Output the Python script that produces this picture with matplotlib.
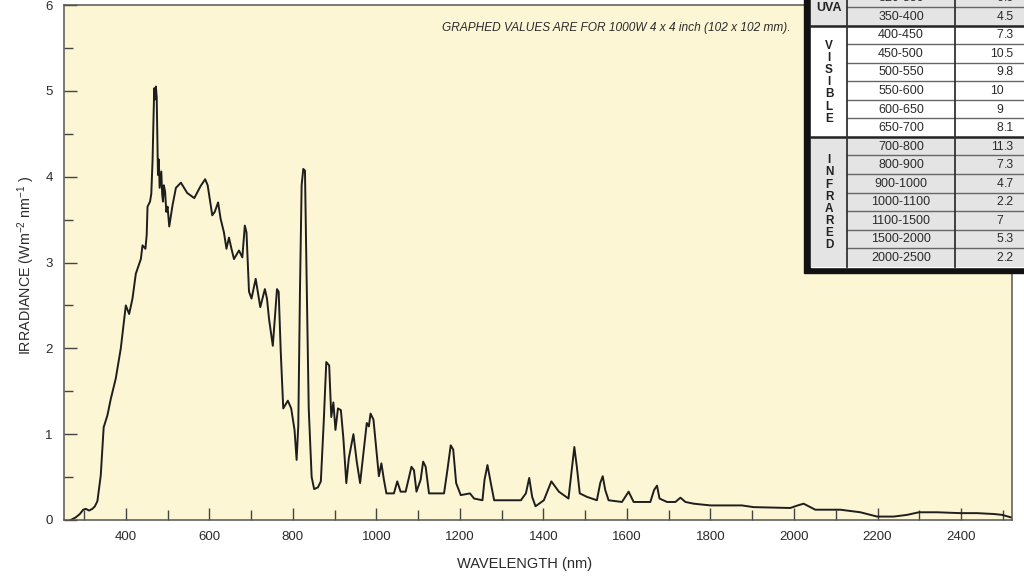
import numpy as np
import matplotlib
matplotlib.use("Agg")
import matplotlib.pyplot as plt
from matplotlib.patches import Rectangle
from matplotlib.ticker import MultipleLocator

plt.rcParams['font.family'] = ['Liberation Sans', 'DejaVu Sans']
plt.rcParams['mathtext.fontset'] = 'custom'
plt.rcParams['mathtext.rm'] = 'Liberation Sans'

# spectrum (nm, W m-2 nm-1)
wavelength_nm = [268, 280, 290, 298, 304, 312, 320, 326, 332, 340, 347, 356, 364, 376, 388,
                 400, 408, 416, 424, 436, 440, 447, 450, 452, 458, 461, 464, 468, 470, 472,
                 474, 477, 479, 481, 485, 487, 489, 491, 494, 497, 500, 504, 512, 520, 532,
                 547, 564, 579, 590, 596, 607, 613,
                 621, 627, 635, 641, 647, 653, 659, 671, 679, 685, 689, 695, 701, 711, 722,
                 733, 738, 743, 752, 762, 766, 771, 777, 788, 796, 804, 809, 813, 817, 821,
                 825, 829, 833, 838, 845, 851, 860, 867, 874, 880, 887, 892, 897, 902, 908,
                 915, 921, 928, 934, 945, 953, 961, 970, 977, 982, 986, 993, 1000, 1006, 1012,
                 1018, 1024, 1042, 1050, 1058, 1070, 1084, 1090, 1096, 1106, 1112, 1118, 1126,
                 1162, 1170, 1178, 1184, 1191, 1202, 1224, 1234, 1254, 1259, 1266, 1274, 1282,
                 1346, 1358, 1366, 1373, 1381, 1401, 1419, 1437, 1460, 1467, 1474, 1480, 1487,
                 1504, 1528, 1536, 1542, 1548, 1556, 1588, 1604, 1616, 1656, 1665, 1672, 1678,
                 1696, 1716, 1728, 1740, 1760, 1800, 1840, 1875, 1903, 1991, 2009, 2023, 2039,
                 2051, 2111, 2159, 2199, 2239, 2271, 2299, 2343, 2398, 2438, 2478, 2498, 2520]
irradiance = [0.0, 0.03, 0.07, 0.12, 0.13, 0.11, 0.13, 0.16, 0.22, 0.52, 1.08, 1.22, 1.41, 1.65, 2.0,
              2.5, 2.4, 2.58, 2.87, 3.04, 3.2, 3.16, 3.32, 3.65, 3.71, 3.8, 4.18, 5.03, 4.9, 5.05,
              4.92, 4.02, 4.2, 3.87, 4.06, 3.8, 3.71, 3.9, 3.83, 3.59, 3.65, 3.42, 3.67, 3.87, 3.93,
              3.81, 3.75, 3.89, 3.97, 3.9, 3.55, 3.59,
              3.7, 3.51, 3.35, 3.16, 3.29, 3.16, 3.04, 3.14, 3.06, 3.43, 3.35, 2.66, 2.58, 2.81, 2.48,
              2.69, 2.58, 2.34, 2.03, 2.69, 2.66, 1.96, 1.3, 1.39, 1.3, 1.05, 0.7, 1.1, 2.66, 3.9,
              4.09, 4.07, 2.8, 1.3, 0.5, 0.36, 0.38, 0.45, 1.15, 1.84, 1.8, 1.2, 1.37, 1.05, 1.3,
              1.28, 0.95, 0.43, 0.72, 1.0, 0.68, 0.43, 0.82, 1.13, 1.09, 1.24, 1.17, 0.82, 0.51, 0.66,
              0.47, 0.31, 0.31, 0.45, 0.33, 0.33, 0.62, 0.58, 0.33, 0.47, 0.68, 0.62, 0.31,
              0.31, 0.58, 0.87, 0.82, 0.43, 0.29, 0.31, 0.25, 0.23, 0.47, 0.64, 0.43, 0.23,
              0.23, 0.31, 0.49, 0.27, 0.16, 0.23, 0.45, 0.33, 0.25, 0.55, 0.85, 0.62, 0.31,
              0.27, 0.23, 0.43, 0.51, 0.35, 0.23, 0.21, 0.33, 0.21, 0.21, 0.35, 0.40, 0.25,
              0.21, 0.21, 0.26, 0.21, 0.19, 0.17, 0.17, 0.17, 0.15, 0.14, 0.17, 0.19, 0.15,
              0.12, 0.12, 0.09, 0.04, 0.04, 0.06, 0.09, 0.09, 0.08, 0.08, 0.07, 0.06, 0.03]

# table of band percentages (top row is cut off in the source)
band_ranges = ["320-350", "350-400", "400-450", "450-500", "500-550", "550-600", "600-650",
               "650-700", "700-800", "800-900", "900-1000", "1000-1100", "1100-1500",
               "1500-2000", "2000-2500"]
band_values = ["6.6", "4.5", "7.3", "10.5", "9.8", "10", "9", "8.1", "11.3", "7.3", "4.7",
               "2.2", "7", "5.3", "2.2"]
band_groups = ["UVA", "VISIBLE", "INFRARED"]
group_sizes = [2, 6, 7]

note = "GRAPHED VALUES ARE FOR 1000W 4 x 4 inch (102 x 102 mm)."

W, H = 1024, 577
fig = plt.figure(figsize=(W / 100, H / 100), dpi=100)
fig.patch.set_facecolor('white')
ax = fig.add_axes([64 / W, 1 - 520 / H, 948 / W, 515 / H])
ax.set_facecolor('#fdf6d4')

ax.plot(wavelength_nm, irradiance, color='#1e1e1e', lw=1.4, solid_joinstyle='round')

ax.set_xlim(252, 2522)
ax.set_ylim(0, 6)
ax.xaxis.set_minor_locator(MultipleLocator(100))
ax.yaxis.set_major_locator(MultipleLocator(1))
ax.yaxis.set_minor_locator(MultipleLocator(0.5))
ax.set_xticks(range(400, 2401, 200))
ax.tick_params(which='both', direction='in', color='#444', labelcolor='#2a2a2a',
               labelsize=9.5, width=1.0)
ax.tick_params(axis='x', which='major', length=8.6, pad=8)
ax.tick_params(axis='x', which='minor', length=7)
ax.tick_params(axis='y', which='major', length=9, pad=8)
ax.tick_params(axis='y', which='minor', length=6.5)
for s in ax.spines.values():
    s.set_color('#555')
    s.set_linewidth(1.1)

ax.set_xlabel("WAVELENGTH (nm)", fontsize=10.5, color='#2a2a2a')
ax.xaxis.set_label_coords(0.486, -0.072)
ax.set_ylabel(r"IRRADIANCE (Wm$^{\mathregular{-2}}$ nm$^{\mathregular{-1}}$ )",
              fontsize=10.3, color='#2a2a2a')
ax.yaxis.set_label_coords(-0.0285, 0.495)

fig.text(790 / W, 1 - 28 / H, note, ha='right', va='center', fontsize=8.6,
         style='italic', color='#2a2a2a')

# overlay for the table, in pixel coordinates
tx = fig.add_axes([0, 0, 1, 1], zorder=5)
tx.set_xlim(0, W)
tx.set_ylim(H, 0)
tx.axis('off')
tx.patch.set_alpha(0)

row_h = 18.55
bottom = 266.7
n = len(band_ranges)
x0, c1, c2, x3 = 811, 847, 955, 1030

tx.add_patch(Rectangle((804, -20), 230, 273 + 20, color='#111'))
tx.add_patch(Rectangle((x0, -20), x3 - x0, bottom + 20, color='white'))

def row_top(i):
    return bottom - row_h * (n - i)

start = 0
for g, size in zip(band_groups, group_sizes):
    top = row_top(start)
    bot = row_top(start + size)
    shade = '#e4e4e4' if g != "VISIBLE" else 'white'
    tx.add_patch(Rectangle((x0, top), x3 - x0, bot - top, color=shade, lw=0))
    cy = (top + bot) / 2
    if g == "UVA":
        tx.text((x0 + c1) / 2, cy + 1, g, ha='center', va='center', fontsize=9,
                fontweight='bold', color='#222')
    else:
        tx.text((x0 + c1) / 2, cy + 1, "\n".join(g), ha='center', va='center',
                fontsize=8.5, fontweight='bold', color='#222', linespacing=1.02)
    for k in range(start + 1, start + size):
        tx.plot([c1, x3], [row_top(k)] * 2, color='#666', lw=1.0)
    if start > 0:
        tx.plot([x0, x3], [top, top], color='#222', lw=1.8)
    start += size

tx.plot([c1, c1], [-20, bottom], color='#333', lw=1.3)
tx.plot([c2, c2], [-20, bottom], color='#333', lw=1.3)

for i, (r, v) in enumerate(zip(band_ranges, band_values)):
    cy = row_top(i) + row_h / 2 + 0.5
    tx.text((c1 + c2) / 2, cy, r, ha='center', va='center', fontsize=9, color='#2a2a2a')
    whole, _, frac = v.partition('.')
    tx.text(1003.5, cy, whole, ha='right', va='center', fontsize=8.7, color='#2a2a2a')
    if frac:
        tx.text(1003.5, cy, '.' + frac, ha='left', va='center', fontsize=8.7, color='#2a2a2a')

fig.savefig("out.png", dpi=100)
